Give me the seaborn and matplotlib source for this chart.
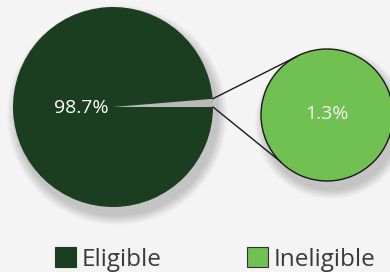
import matplotlib
matplotlib.use("Agg")
import matplotlib.pyplot as plt
import seaborn as sns
import numpy as np
from matplotlib.patches import Patch, Circle

categories = ["Eligible", "Ineligible"]
values = [98.7, 1.3]
labels = ["98.7%", "1.3%"]
colors = ["#1b3d20", "#70c052"]

sns.set_theme(style="white")
plt.rcParams['font.family'] = ['Open Sans', 'DejaVu Sans']

fig = plt.figure(figsize=(3.9, 2.72), dpi=100)
fig.patch.set_facecolor("#f4f4f4")
ax = fig.add_axes([0, 0, 1, 1])
ax.set_facecolor("#f4f4f4")

c1, r1 = (113, 165), 100
c2, r2 = (327, 157), 66

# soft shadows
for c, r in [(c1, r1), (c2, r2)]:
    for k in range(10):
        ax.add_patch(Circle((c[0] + 4, c[1] - 8), r + 10 - k, color="#000000",
                            alpha=0.02, lw=0, zorder=0))

# main pie: small slice shown as an empty notch
ang = values[1] / sum(values) * 360
wedges, _ = ax.pie([values[1], values[0]], colors=["#b9b9b9", colors[0]],
                   startangle=0, counterclock=True, center=c1, radius=r1,
                   frame=True, wedgeprops=dict(lw=0))
for w in wedges:
    w.set_zorder(2)
ax.text(c1[0] - 32, c1[1] - 1, labels[0], color="white", fontsize=14,
        ha="center", va="center", zorder=5)

# second pie
w2, _ = ax.pie([values[1]], colors=[colors[1]], center=c2, radius=r2,
               frame=True, wedgeprops=dict(lw=1, edgecolor="#1a1a1a"))
for w in w2:
    w.set_zorder(2)
ax.text(c2[0], c2[1] + 1, labels[1], color="#f2f2f2", fontsize=14,
        ha="center", va="center", zorder=5)

ax.set_xlim(0, 390)
ax.set_ylim(0, 272)
ax.set_aspect("equal")
ax.axis("off")

# connector lines from slice edges to tangents of second circle
p_top = (c1[0] + r1 * np.cos(np.radians(ang)), c1[1] + r1 * np.sin(np.radians(ang)))
p_bot = (c1[0] + r1, c1[1])
t_top = (c2[0] - r2 * 0.45, c2[1] + r2 * 0.89)
t_bot = (c2[0] - r2 * 0.70, c2[1] - r2 * 0.71)
ax.plot([p_top[0], t_top[0]], [p_top[1], t_top[1]], color="#1a1a1a", lw=1, zorder=3)
ax.plot([p_bot[0], t_bot[0]], [p_bot[1], t_bot[1]], color="#1a1a1a", lw=1, zorder=3)

handles = [Patch(facecolor=colors[0], edgecolor=colors[0], lw=0.8),
           Patch(facecolor=colors[1], edgecolor="#333333", lw=0.8)]
fig.legend(handles, categories, loc="lower left", bbox_to_anchor=(53 / 390, -2 / 272),
           ncol=2, frameon=False, fontsize=17.5, handlelength=0.85, handleheight=0.85,
           handletextpad=0.24, columnspacing=3.5, labelcolor="#3a3a3a", borderpad=0.1,
           borderaxespad=0)

fig.savefig("out.png", dpi=100, facecolor=fig.get_facecolor())
